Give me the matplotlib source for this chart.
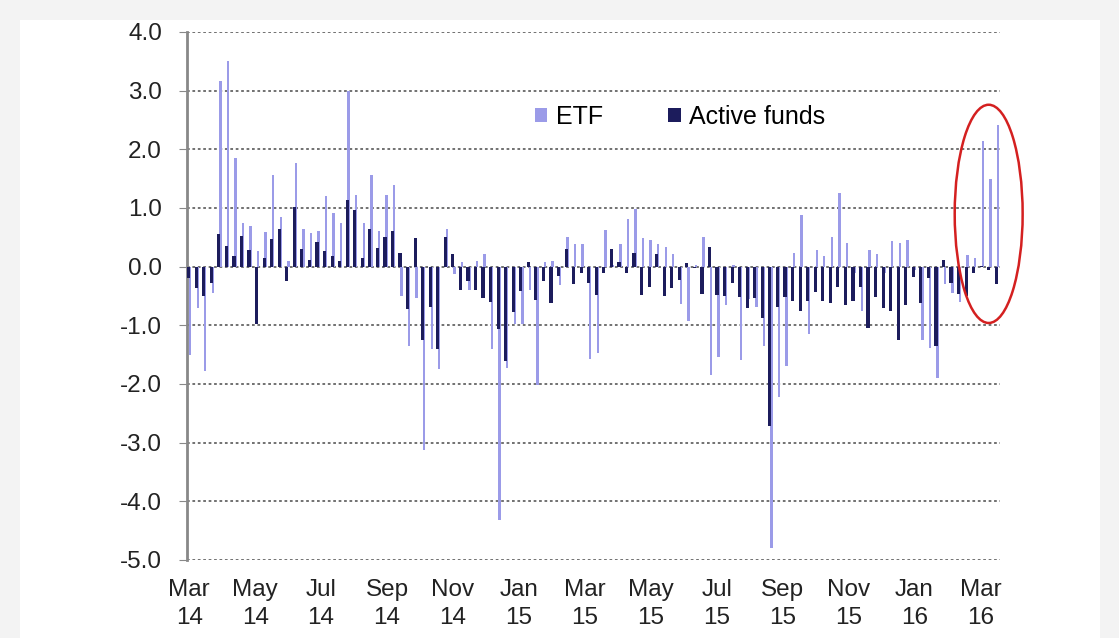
import matplotlib.pyplot as plt
from matplotlib.patches import Ellipse, Rectangle
import numpy as np

plt.rcParams.update({'font.family': ['Liberation Sans', 'DejaVu Sans']})

# weekly flows, Mar 2014 - Mar 2016
etf = [-1.5, -0.7, -1.78, -0.45, 3.16, 3.5, 1.86, 0.75, 0.69, 0.27,
       0.59, 1.56, 0.84, 0.1, 1.77, 0.65, 0.58, 0.6, 1.2, 0.92,
       0.75, 3.0, 1.23, 0.75, 1.56, 0.61, 1.23, 1.4, -0.5, -1.35,
       -0.53, -3.13, -1.41, -1.74, 0.65, -0.13, 0.08, -0.4, 0.1, 0.22,
       -1.4, -4.32, -1.72, -0.98, -0.98, -0.4, -2.02, 0.08, 0.09, -0.32,
       0.5, 0.38, 0.38, -1.58, -1.47, 0.63, 0.03, 0.39, 0.81, 0.98,
       0.49, 0.46, 0.38, 0.34, 0.21, -0.64, -0.92, 0.02, 0.5, -1.85,
       -1.54, -0.66, 0.03, -1.59, -0.55, -0.68, -1.35, -4.79, -2.23, -1.7,
       0.23, 0.88, -1.14, 0.29, 0.19, 0.5, 1.26, 0.41, -0.1, -0.76,
       0.28, 0.21, -0.1, 0.44, 0.4, 0.45, -0.05, -1.25, -1.38, -1.89,
       -0.3, -0.45, -0.61, 0.2, 0.14, 2.15, 1.5, 2.42]
active = [-0.2, -0.36, -0.5, -0.27, 0.55, 0.35, 0.19, 0.52, 0.28, -0.98,
          0.14, 0.47, 0.65, -0.24, 1.02, 0.3, 0.11, 0.42, 0.27, 0.18,
          0.1, 1.14, 0.96, 0.14, 0.64, 0.32, 0.51, 0.61, 0.24, -0.73,
          0.49, -1.25, -0.68, -1.4, 0.51, 0.21, -0.4, -0.25, -0.4, -0.53,
          -0.6, -1.07, -1.6, -0.78, -0.42, 0.08, -0.56, -0.24, -0.62, -0.16,
          0.3, -0.29, -0.11, -0.28, -0.48, -0.1, 0.3, 0.08, -0.1, 0.24,
          -0.48, -0.35, 0.21, -0.5, -0.36, -0.22, 0.07, -0.02, -0.46, 0.34,
          -0.48, -0.5, -0.27, -0.51, -0.7, -0.54, -0.87, -2.71, -0.68, -0.52,
          -0.59, -0.75, -0.58, -0.43, -0.59, -0.62, -0.34, -0.66, -0.59, -0.34,
          -1.05, -0.51, -0.71, -0.76, -1.25, -0.65, -0.17, -0.62, -0.2, -1.35,
          0.12, -0.28, -0.46, -0.5, -0.1, 0.01, -0.05, -0.3]
month_labels = ['Mar\n14', 'May\n14', 'Jul\n14', 'Sep\n14', 'Nov\n14', 'Jan\n15', 'Mar\n15',
                'May\n15', 'Jul\n15', 'Sep\n15', 'Nov\n15', 'Jan\n16', 'Mar\n16']

etf_color = '#9b9be8'
active_color = '#1c1c5c'

fig = plt.figure(figsize=(11.19, 6.38), dpi=100)
fig.patch.set_facecolor('#f3f3f3')
fig.patches.append(Rectangle((20 / 1119, 0), 1080 / 1119, 1 - 20 / 638,
                             transform=fig.transFigure, facecolor='white',
                             edgecolor='none', zorder=-10))
ax = fig.add_axes([187 / 1119, 1 - 560 / 638, 813 / 1119, 528 / 638])
ax.set_facecolor('none')

x = np.arange(len(etf))
ax.bar(x + 0.12, etf, width=0.32, color=etf_color, label='ETF', zorder=2)
ax.bar(x - 0.08, active, width=0.42, color=active_color, label='Active funds', zorder=3)

ax.set_ylim(-5, 4)
ax.set_xlim(-0.3, len(etf) - 0.6)
ax.set_yticks(np.arange(-5, 5, 1))
ax.set_yticklabels([f'{v:.1f}' for v in np.arange(-5, 5, 1)])
ax.yaxis.grid(True, color='#666666', linestyle=(0, (1.5, 1.5)), linewidth=1.3)
ax.set_axisbelow(True)

ax.set_xticks(np.linspace(0, 104.8, 13))
ax.set_xticklabels(month_labels, linespacing=1.3)
ax.tick_params(axis='x', length=0, labelsize=17.5, pad=14, colors='#222222')
ax.tick_params(axis='y', length=6, direction='out', labelsize=17.5, pad=12,
               colors='#888888', labelcolor='#222222')

for s in ['top', 'right', 'bottom']:
    ax.spines[s].set_visible(False)
ax.spines['left'].set_color('#888888')
ax.spines['left'].set_linewidth(2)

ax.legend(loc='center left', bbox_to_anchor=(0.40, 0.839), ncol=2, frameon=False,
          fontsize=18, handlelength=0.5, handleheight=0.5, columnspacing=2.6,
          handletextpad=0.35)

ell = Ellipse((105.9, 0.9), 9.0, 3.72, fill=False, edgecolor='#d42020',
              linewidth=1.8, clip_on=False, zorder=5)
ax.add_patch(ell)

fig.savefig('out.png', dpi=100)
